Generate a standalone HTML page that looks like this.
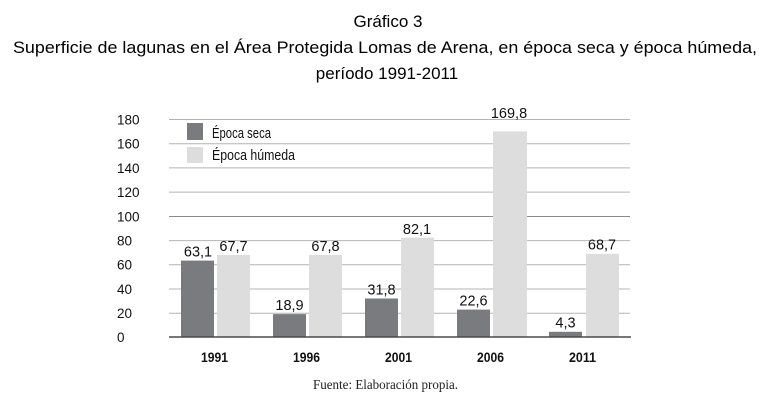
<!DOCTYPE html>
<html>
<head>
<meta charset="utf-8">
<style>
  html,body{margin:0;padding:0;background:#fff;}
  svg{display:block;}
</style>
</head>
<body>
<svg width="767" height="403" viewBox="0 0 767 403" xmlns="http://www.w3.org/2000/svg">
  <rect width="767" height="403" fill="#fff"/>
  <!-- Title -->
  <g font-family="Liberation Sans, Arial, sans-serif" font-size="17" fill="#000" text-anchor="middle">
    <text x="388" y="27">Gráfico 3</text>
    <text x="385" y="53" textLength="744" lengthAdjust="spacingAndGlyphs">Superficie de lagunas en el Área Protegida Lomas de Arena, en época seca y época húmeda,</text>
    <text x="387" y="79">período 1991-2011</text>
  </g>

  <!-- Gridlines -->
  <g stroke="#b4b4b4" stroke-width="1">
    <line x1="169" y1="119.5" x2="630" y2="119.5"/>
    <line x1="169" y1="143.7" x2="630" y2="143.7"/>
    <line x1="169" y1="167.9" x2="630" y2="167.9"/>
    <line x1="169" y1="192.1" x2="630" y2="192.1"/>
    <line x1="169" y1="240.6" x2="630" y2="240.6"/>
    <line x1="169" y1="264.8" x2="630" y2="264.8"/>
    <line x1="169" y1="289.0" x2="630" y2="289.0"/>
    <line x1="169" y1="313.2" x2="630" y2="313.2"/>
  </g>
  <line x1="169" y1="216.5" x2="630" y2="216.5" stroke="#8a8a8a" stroke-width="1"/>

  <!-- Y labels -->
  <g font-family="Liberation Sans, Arial, sans-serif" font-size="13.5" fill="#111">
    <text x="117" y="124.5">180</text>
    <text x="117" y="148.7">160</text>
    <text x="117" y="172.9">140</text>
    <text x="117" y="197.1">120</text>
    <text x="117" y="221.3">100</text>
    <text x="117" y="245.5">80</text>
    <text x="117" y="269.7">60</text>
    <text x="117" y="293.9">40</text>
    <text x="117" y="318.1">20</text>
    <text x="117" y="342">0</text>
  </g>

  <!-- Legend -->
  <rect x="187" y="123" width="16" height="17" fill="#7a7b7f"/>
  <rect x="187" y="147" width="16" height="16" fill="#dcdddc"/>
  <g font-family="Liberation Sans Narrow, Liberation Sans, Arial, sans-serif" font-size="14.5" fill="#111">
    <text x="212" y="138" textLength="59" lengthAdjust="spacingAndGlyphs">Época seca</text>
    <text x="212" y="160" textLength="83" lengthAdjust="spacingAndGlyphs">Época húmeda</text>
  </g>

  <!-- Bars: seca -->
  <g fill="#7a7b7f">
    <rect x="181" y="260.6" width="33" height="76.4"/>
    <rect x="273" y="314.1" width="33" height="22.9"/>
    <rect x="365" y="298.5" width="33" height="38.5"/>
    <rect x="457" y="309.6" width="33" height="27.4"/>
    <rect x="549" y="331.8" width="33" height="5.2"/>
  </g>
  <!-- Bars: humeda -->
  <g fill="#dcdddc">
    <rect x="217" y="255.0" width="33" height="82.0"/>
    <rect x="309" y="254.9" width="33" height="82.1"/>
    <rect x="401" y="237.6" width="33" height="99.4"/>
    <rect x="493" y="131.4" width="34" height="205.6"/>
    <rect x="586" y="253.8" width="33" height="83.2"/>
  </g>

  <!-- Baseline -->
  <line x1="169" y1="337" x2="631" y2="337" stroke="#4a4a4a" stroke-width="1.6"/>

  <!-- Value labels -->
  <g font-family="Liberation Sans, Arial, sans-serif" font-size="14.5" fill="#111" text-anchor="middle">
    <text x="198" y="256.5">63,1</text>
    <text x="233.5" y="251">67,7</text>
    <text x="289.5" y="310">18,9</text>
    <text x="325.5" y="251">67,8</text>
    <text x="381.5" y="294.5">31,8</text>
    <text x="417" y="234">82,1</text>
    <text x="473.5" y="305.5">22,6</text>
    <text x="509" y="118">169,8</text>
    <text x="565.5" y="327.5">4,3</text>
    <text x="602" y="249.5">68,7</text>
  </g>

  <!-- X labels -->
  <g font-family="Liberation Sans Narrow, Liberation Sans, Arial, sans-serif" font-size="14" font-weight="bold" fill="#111" text-anchor="middle">
    <text x="214.5" y="362" textLength="27" lengthAdjust="spacingAndGlyphs">1991</text>
    <text x="306.5" y="362" textLength="27" lengthAdjust="spacingAndGlyphs">1996</text>
    <text x="398.5" y="362" textLength="27" lengthAdjust="spacingAndGlyphs">2001</text>
    <text x="490.5" y="362" textLength="27" lengthAdjust="spacingAndGlyphs">2006</text>
    <text x="582.5" y="362" textLength="27" lengthAdjust="spacingAndGlyphs">2011</text>
  </g>

  <!-- Source -->
  <text x="313" y="389" font-family="Liberation Serif, Times New Roman, serif" font-size="13.5" fill="#222" textLength="145" lengthAdjust="spacingAndGlyphs">Fuente: Elaboración propia.</text>
</svg>
</body>
</html>
